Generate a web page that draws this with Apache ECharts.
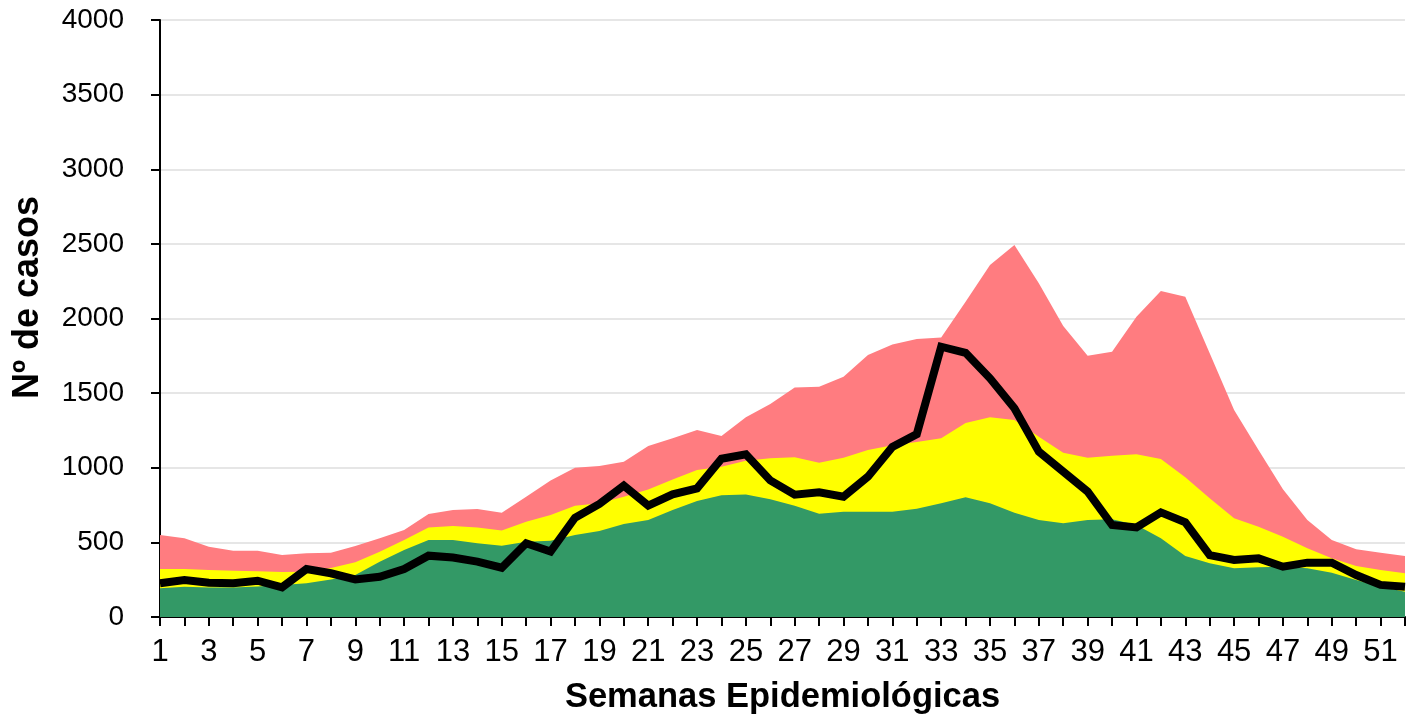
<!DOCTYPE html>
<html>
<head>
<meta charset="utf-8">
<script src="https://cdn.jsdelivr.net/npm/echarts@6/dist/echarts.min.js"></script>
<style>
html,body{margin:0;padding:0;background:#fff;}
#chart{width:1406px;height:721px;}
</style>
</head>
<body>
<div id="chart"></div>
<script>
const weeks = Array.from({length: 52}, (_, i) => String(i + 1));
// Upper limit of each zone (cumulative levels)
const epidemicTop = [549,527,471,444,444,415,427,431,476,527,583,690,717,723,699,806,915,1000,1012,1041,1146,1197,1253,1213,1338,1427,1537,1543,1610,1755,1825,1862,1873,2113,2358,2492,2236,1950,1751,1778,2012,2184,2146,1767,1387,1119,856,650,516,454,431,409];
const alertTop = [322,322,315,310,306,301,303,328,366,438,516,599,610,599,579,639,684,746,762,806,855,922,985,1007,1047,1063,1070,1034,1067,1119,1150,1172,1197,1300,1338,1320,1208,1101,1067,1081,1090,1059,936,795,661,605,538,460,393,342,315,293];
const safetyTop = [192,203,197,197,205,215,226,252,281,371,449,516,516,494,478,505,511,549,576,623,650,717,777,815,820,789,746,692,706,706,706,726,762,802,762,699,650,628,650,655,616,527,409,360,326,333,337,326,297,248,203,170];
const cases = [226,248,230,226,243,199,322,293,252,270,322,411,398,371,330,494,438,665,757,880,746,822,862,1060,1090,915,820,836,806,940,1140,1225,1811,1770,1599,1398,1108,974,840,616,600,701,634,415,382,393,337,364,364,281,215,203];

const chart = echarts.init(document.getElementById('chart'), null, {renderer: 'canvas'});
function area(name, data, color, z) {
  return {
    name, type: 'line', data, symbol: 'none', silent: true, z,
    lineStyle: {width: 0, color}, areaStyle: {color, opacity: 1, origin: 'start'}
  };
}
chart.setOption({
  animation: false,
  backgroundColor: '#ffffff',
  grid: {left: 160, right: 1, top: 20, bottom: 104, containLabel: false},
  xAxis: {
    type: 'category', data: weeks, boundaryGap: false,
    name: 'Semanas Epidemiológicas', nameLocation: 'middle', nameGap: 63,
    nameTextStyle: {fontFamily: 'Liberation Sans, Arial', fontWeight: 'bold', fontSize: 34.5, color: '#000'},
    axisLine: {lineStyle: {color: '#000', width: 2}},
    axisTick: {show: true, interval: 0, length: 9, lineStyle: {color: '#000', width: 2}},
    axisLabel: {interval: 1, margin: 20, fontFamily: 'Liberation Sans, Arial', fontSize: 31, color: '#000'},
    splitLine: {show: false}
  },
  yAxis: {
    type: 'value', min: 0, max: 4000, interval: 500,
    name: 'Nº de casos', nameLocation: 'middle', nameGap: 114,
    nameTextStyle: {fontFamily: 'Liberation Sans, Arial', fontWeight: 'bold', fontSize: 36, color: '#000', padding: [0, 0, 0, 42]},
    axisLine: {show: true, lineStyle: {color: '#000', width: 2}},
    axisTick: {show: true, length: 9, lineStyle: {color: '#000', width: 2}},
    axisLabel: {margin: 36, fontFamily: 'Liberation Sans, Arial', fontSize: 28, color: '#000', formatter: v => String(v)},
    splitLine: {show: true, lineStyle: {color: '#e6e6e6', width: 2}}
  },
  series: [
    area('Epidemia', epidemicTop, '#FF7C80', 1),
    area('Alerta', alertTop, '#FFFF00', 2),
    area('Seguridad', safetyTop, '#339966', 3),
    {
      name: 'Casos', type: 'line', data: cases, symbol: 'none', silent: true, z: 5,
      lineStyle: {color: '#000', width: 8, join: 'miter'}
    }
  ]
});
</script>
</body>
</html>
